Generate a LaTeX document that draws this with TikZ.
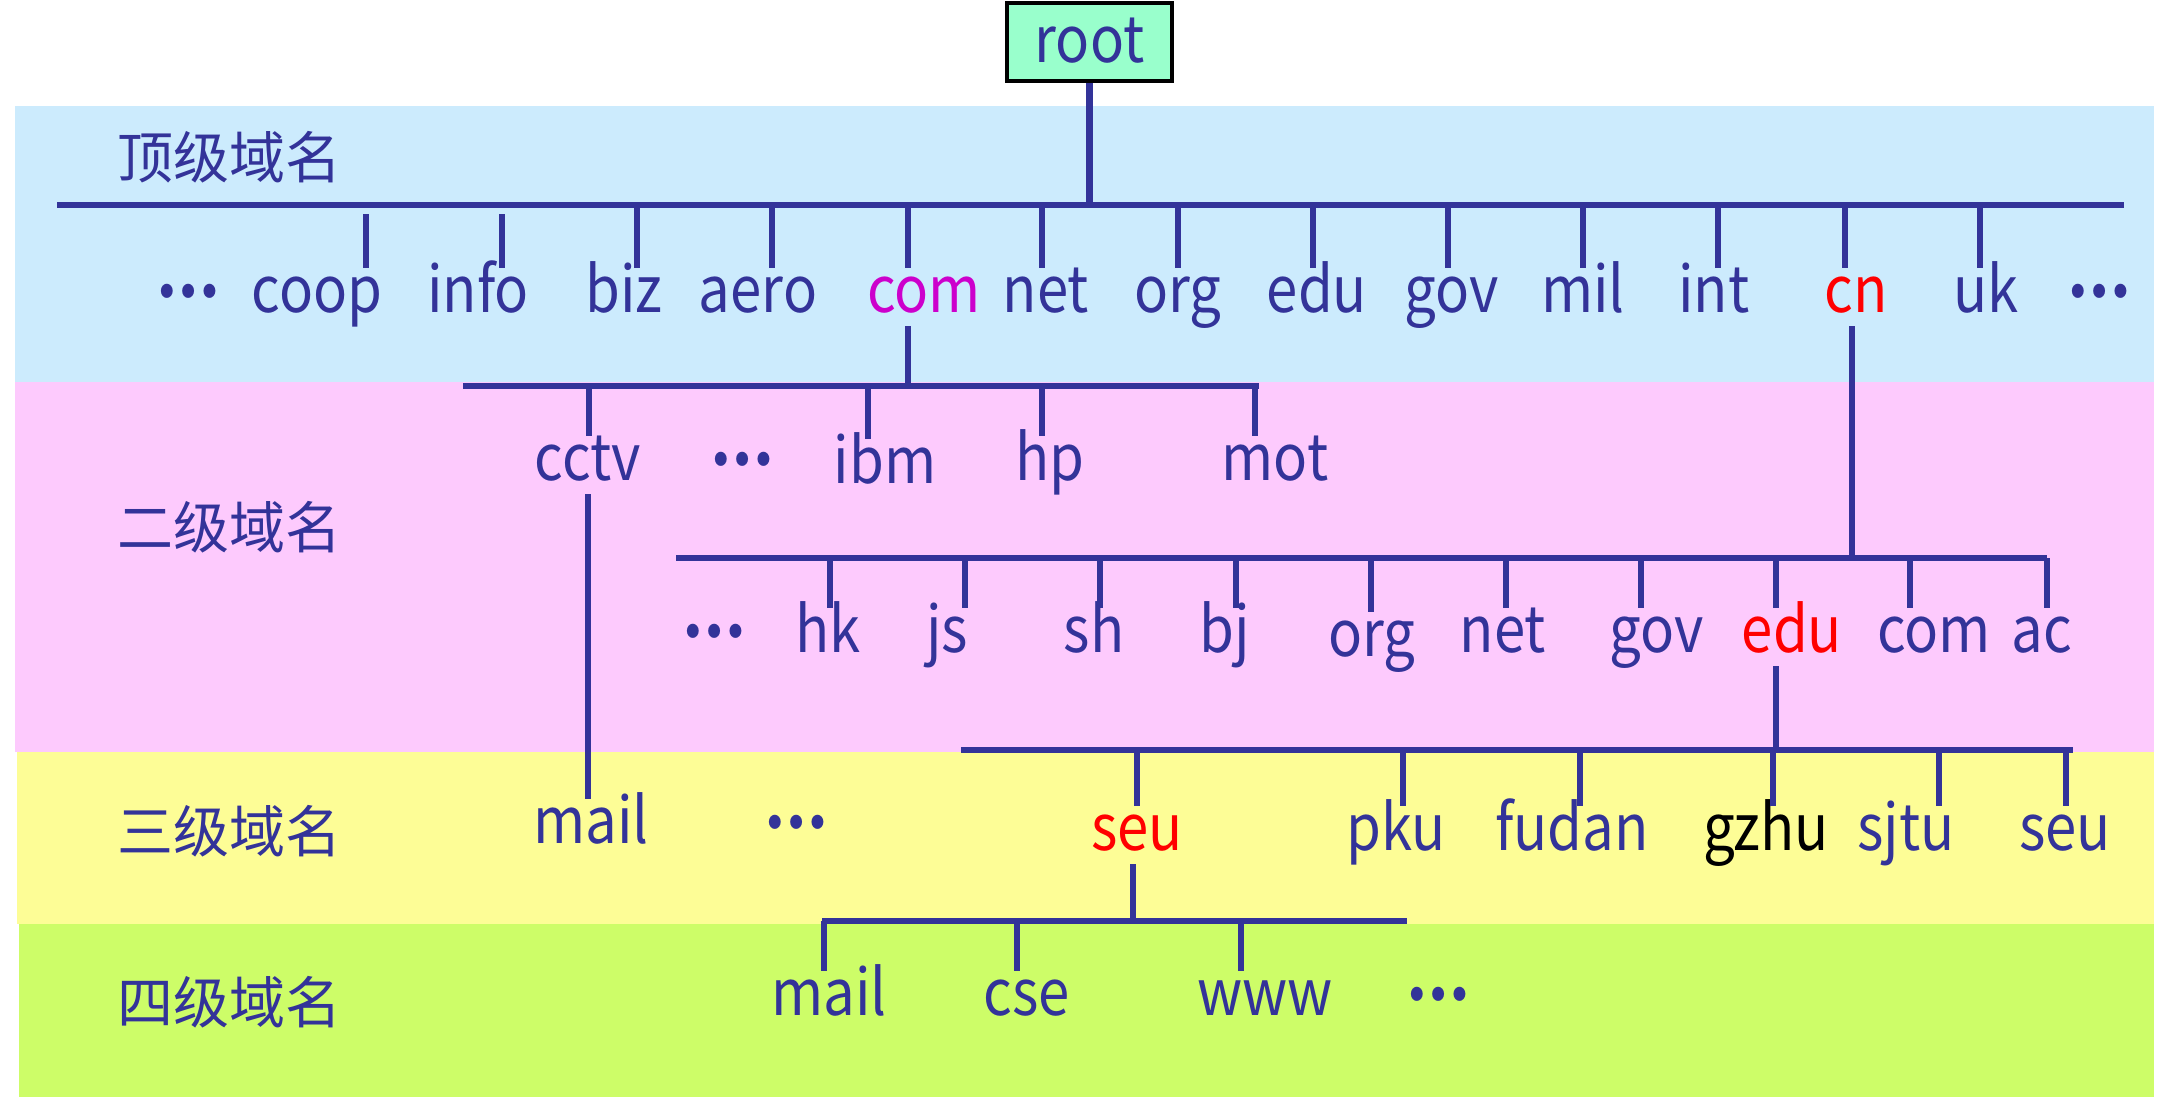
\documentclass[tikz,border=0pt]{standalone}
\usepackage{fontspec}
\setmainfont{Noto Sans CJK SC}
\newfontfamily\dnsfont[FakeStretch=0.88]{Noto Sans CJK SC}
\usetikzlibrary{calc}

\definecolor{dns}{HTML}{333399}
\definecolor{bandtop}{HTML}{CCEBFD}
\definecolor{bandtwo}{HTML}{FDCAFD}
\definecolor{bandthree}{HTML}{FDFD96}
\definecolor{bandfour}{HTML}{CDFD68}
\definecolor{rootfill}{HTML}{99FFCC}
\definecolor{hilite}{HTML}{CC00CC}

\newcommand{\more}{\raisebox{15pt}{\textbf{…}}}

\tikzset{
  lbl/.style={inner sep=0pt, text=dns, font=\dnsfont\fontsize{64}{64}\selectfont,
    text height=44pt, text depth=14pt, anchor=base},
  lvl/.style={inner sep=0pt, text=dns, font=\fontsize{56}{56}\selectfont,
    anchor=base west},
  bus/.style={draw=dns, line width=6.5pt},
  stem/.style={draw=dns, line width=5.5pt},
}

\begin{document}
\begin{tikzpicture}[x=1pt, y=-1pt]
  \useasboundingbox (0,0) rectangle (2175,1104);
  % bands
  \fill[bandtop]   (15,106) rectangle (2154,382);
  \fill[bandtwo]   (15,382) rectangle (2154,752);
  \fill[bandthree] (17,752) rectangle (2154,924);
  \fill[bandfour]  (19,924) rectangle (2154,1097);
  \node[lvl] (lvl1) at (117,178)  {顶级域名};
  \node[lvl] (lvl2) at (117,548)  {二级域名};
  \node[lvl] (lvl3) at (117,852)  {三级域名};
  \node[lvl] (lvl4) at (117,1023) {四级域名};

  % root
  \node[lbl, anchor=center, text depth=4pt, draw=black, line width=4pt,
    fill=rootfill, minimum width=165pt, minimum height=78pt] (root) at (1089.5,42) {root};
  \coordinate (busT-w) at (57,205);
  \coordinate (busT-e) at (2124,205);
  \draw[stem, line width=7pt] (root.south) -- (root.south |- busT-w);
  \draw[bus] (busT-w) -- (busT-e);

  % top level domains
  \node[lbl] (t-dots1) at (188,312) {\more};
  \node[lbl] (t-dots2) at (2099,312) {\more};
  \foreach \tx/\ty/\lx/\n/\c in {366/214/317/coop/dns, 502/214/478/info/dns,
      637/205/624/biz/dns, 772/205/758/aero/dns, 908/205/924/com/hilite,
      1042/205/1046/net/dns, 1178/205/1178/org/dns, 1313/205/1317/edu/dns,
      1448/205/1452/gov/dns, 1583/205/1583/mil/dns, 1718/205/1714/int/dns,
      1845/205/1856/cn/red, 1980/205/1986/uk/dns}{
    \node[lbl, text=\c] (t-\n) at (\lx,312) {\n};
    \coordinate (t-\n-top) at (\tx,\ty);
    \draw[stem] (t-\n-top) -- (t-\n-top |- t-\n.north);
  }

  % second level under com
  \coordinate (busC-w) at (463,386);
  \coordinate (busC-e) at (1259,386);
  \coordinate (busC-in) at (908,386);
  \draw[stem] (busC-in |- t-com.south) -- (busC-in);
  \draw[bus] (busC-w) -- (busC-e);
  \node[lbl] (c-dots) at (742,480) {\more};
  \foreach \tx/\lx/\ly/\n in {589/588/480/cctv, 868/885/483/ibm,
      1042/1050/480/hp, 1255/1275/480/mot}{
    \node[lbl] (c-\n) at (\lx,\ly) {\n};
    \coordinate (c-\n-top) at (\tx,386);
    \draw[stem] (c-\n-top) -- (c-\n-top |- c-\n.north);
  }

  % second level under cn
  \coordinate (busN-w) at (676,558);
  \coordinate (busN-e) at (2047,558);
  \coordinate (busN-in) at (1852,558);
  \draw[stem] (busN-in |- t-cn.south) -- (busN-in);
  \draw[bus] (busN-w) -- (busN-e);
  \node[lbl] (n-dots) at (714,652) {\more};
  \foreach \tx/\lx/\ly/\n/\c in {830/828/652/hk/dns, 965/947/652/js/dns,
      1100/1094/652/sh/dns, 1236/1225/652/bj/dns, 1371/1372/656/org/dns,
      1506/1503/652/net/dns, 1641/1657/652/gov/dns, 1776/1792/652/edu/red,
      1910/1934/652/com/dns, 2047/2042/652/ac/dns}{
    \node[lbl, text=\c] (n-\n) at (\lx,\ly) {\n};
    \coordinate (n-\n-top) at (\tx,558);
    \draw[stem] (n-\n-top) -- (n-\n-top |- n-\n.north);
  }

  % third level
  \node[lbl] (c-mail) at (591,843) {mail};
  \draw[stem] (c-cctv.south) -- (c-cctv.south |- c-mail.north);
  \node[lbl] (c-dots2) at (796,843) {\more};
  \coordinate (busE-w) at (961,750);
  \coordinate (busE-e) at (2073,750);
  \coordinate (busE-in) at (1776,750);
  \draw[stem] (busE-in |- n-edu.south) -- (busE-in);
  \draw[bus] (busE-w) -- (busE-e);
  \foreach \tx/\lx/\n/\t/\c in {1137/1137/seu/seu/red, 1403/1396/pku/pku/dns,
      1580/1572/fudan/fudan/dns, 1773/1766/gzhu/gzhu/black,
      1939/1906/sjtu/sjtu/dns, 2066/2065/seuB/seu/dns}{
    \node[lbl, text=\c] (e-\n) at (\lx,850) {\t};
    \coordinate (e-\n-top) at (\tx,750);
    \draw[stem] (e-\n-top) -- (e-\n-top |- e-\n.north);
  }

  % fourth level under seu
  \coordinate (busS-w) at (822,921);
  \coordinate (busS-e) at (1407,921);
  \coordinate (busS-in) at (1133,921);
  \draw[stem] (busS-in |- e-seu.south) -- (busS-in);
  \draw[bus] (busS-w) -- (busS-e);
  \node[lbl] (s-dots) at (1438,1015) {\more};
  \foreach \tx/\lx/\n in {824/829/mail, 1017/1027/cse, 1241/1265/www}{
    \node[lbl] (s-\n) at (\lx,1015) {\n};
    \coordinate (s-\n-top) at (\tx,921);
    \draw[stem] (s-\n-top) -- (s-\n-top |- s-\n.north);
  }
\end{tikzpicture}
\end{document}
